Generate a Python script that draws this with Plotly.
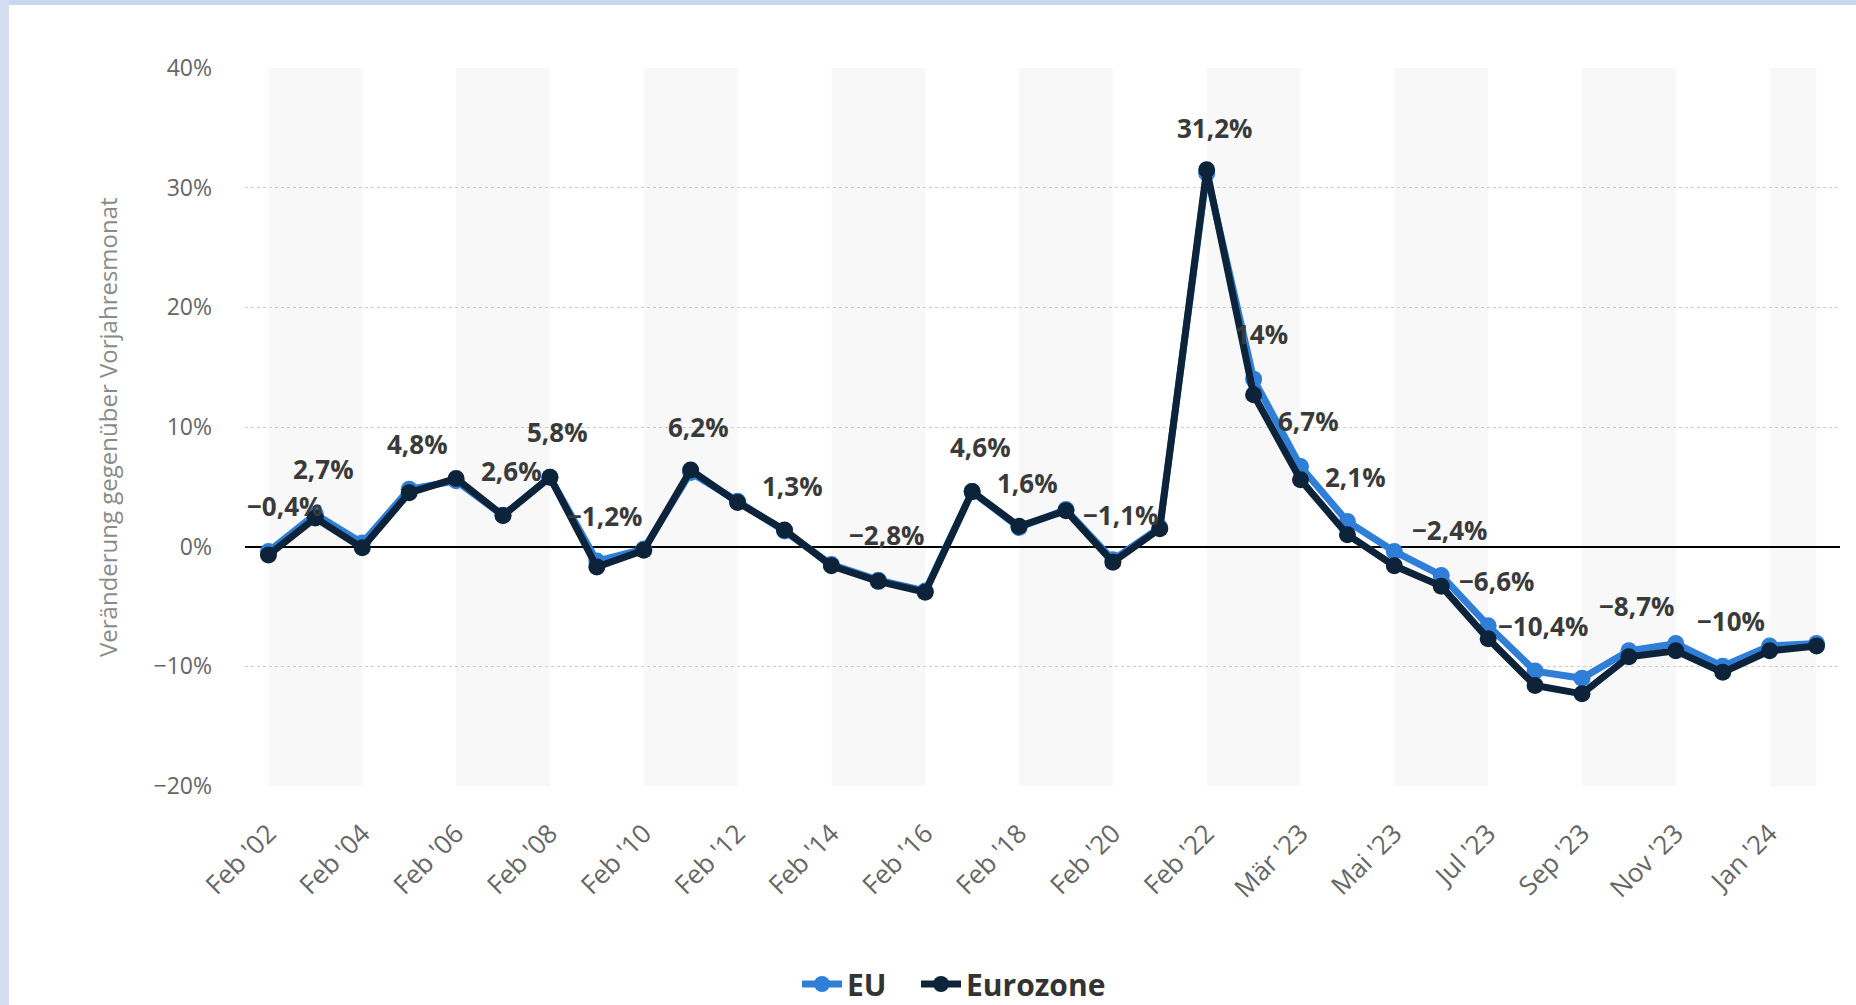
import plotly.graph_objects as go

# ---------------- data ----------------
categories = [
    "Feb '02", "Feb '03", "Feb '04", "Feb '05", "Feb '06", "Feb '07", "Feb '08",
    "Feb '09", "Feb '10", "Feb '11", "Feb '12", "Feb '13", "Feb '14", "Feb '15",
    "Feb '16", "Feb '17", "Feb '18", "Feb '19", "Feb '20", "Feb '21", "Feb '22",
    "Feb '23", "Mär '23", "Apr '23", "Mai '23", "Jun '23", "Jul '23", "Aug '23",
    "Sep '23", "Okt '23", "Nov '23", "Dez '23", "Jan '24", "Feb '24",
]

eu_values = [
    -0.4, 2.7, 0.3, 4.8, 5.5, 2.6, 5.8, -1.2, -0.2, 6.2, 3.8, 1.3, -1.5, -2.8,
    -3.7, 4.6, 1.6, 3.1, -1.1, 1.6, 31.2, 14.0, 6.7, 2.1, -0.4, -2.4, -6.6,
    -10.4, -11.0, -8.7, -8.1, -10.0, -8.3, -8.1,
]

eurozone_values = [
    -0.7, 2.4, -0.1, 4.5, 5.7, 2.6, 5.8, -1.7, -0.3, 6.4, 3.7, 1.4, -1.6, -2.9,
    -3.8, 4.6, 1.7, 3.0, -1.3, 1.5, 31.5, 12.7, 5.6, 1.0, -1.6, -3.3, -7.7,
    -11.6, -12.3, -9.2, -8.7, -10.5, -8.7, -8.3,
]

# indices of EU points that carry a visible data label
labelled_points = [0, 1, 3, 5, 6, 7, 9, 11, 13, 15, 16, 18, 20, 21, 22, 23,
                   25, 26, 27, 29, 31]

y_ticks = [-20, -10, 0, 10, 20, 30, 40]
tick_categories = categories[::2]

# ---------------- style / layout ----------------
W, H = 1856, 1005
ML, MR, MT, MB = 245, 16, 68, 219
PW, PH = W - ML - MR, H - MT - MB

EU_COLOR = "#2f7ed8"
EZ_COLOR = "#0d233a"
FONT = "Open Sans"


def px_x(x):
    return (x - ML) / PW


def px_y(y):
    return 1 - (y - MT) / PH


def fmt(v):
    s = f"{v:.1f}"
    if s.endswith(".0"):
        s = s[:-2]
    return s.replace(".", ",").replace("-", "\u2212") + "%"


fig = go.Figure()

fig.add_trace(go.Scatter(
    x=categories, y=eu_values, name="EU", mode="lines+markers",
    line=dict(color=EU_COLOR, width=7),
    marker=dict(color=EU_COLOR, size=17),
    cliponaxis=False, legend="legend",
))
fig.add_trace(go.Scatter(
    x=categories, y=eurozone_values, name="Eurozone", mode="lines+markers",
    line=dict(color=EZ_COLOR, width=7),
    marker=dict(color=EZ_COLOR, size=17),
    cliponaxis=False, legend="legend2",
))

annotations = []
for i in labelled_points:
    annotations.append(dict(
        x=categories[i], y=eu_values[i], xref="x", yref="y",
        text=fmt(eu_values[i]), showarrow=False,
        xshift=16 if i == 0 else 8, yshift=45,
        font=dict(family=FONT, size=26, color="#3a3a3a", weight="bold"),
    ))

# y axis title
annotations.append(dict(
    x=px_x(107), y=0.5, xref="paper", yref="paper", xanchor="center",
    yanchor="middle",
    text="Veränderung gegenüber Vorjahresmonat", textangle=-90,
    showarrow=False, font=dict(family=FONT, size=24, color="#8a8a8a"),
))

shapes = []
# alternating background bands (every two categories)
n = len(categories)
for k in range(0, n - 1, 4):
    shapes.append(dict(
        type="rect", xref="x", yref="paper", x0=k, x1=min(k + 2, n - 1),
        y0=0, y1=1, fillcolor="#f8f8f8", line=dict(width=0), layer="below",
    ))
# light blue page frame strips
shapes.append(dict(type="rect", xref="paper", yref="paper",
                   x0=px_x(0), x1=px_x(W), y0=px_y(0), y1=px_y(5),
                   fillcolor="#c8d6ef", line=dict(width=0), layer="below"))
shapes.append(dict(type="rect", xref="paper", yref="paper",
                   x0=px_x(0), x1=px_x(9), y0=px_y(0), y1=px_y(H),
                   fillcolor="#d3def2", line=dict(width=0), layer="below"))

legend_style = dict(
    orientation="h", yanchor="middle", y=px_y(984), xanchor="left",
    font=dict(family=FONT, size=30, color="#333333", weight="bold"),
    itemwidth=40, bgcolor="rgba(0,0,0,0)",
)

fig.update_layout(
    width=W, height=H,
    margin=dict(l=ML, r=MR, t=MT, b=MB, autoexpand=False),
    paper_bgcolor="white", plot_bgcolor="white",
    font=dict(family=FONT, color="#666666"),
    showlegend=True,
    legend=dict(x=px_x(797), **legend_style),
    legend2=dict(x=px_x(916), **legend_style),
    annotations=annotations,
    shapes=shapes,
    xaxis=dict(
        type="category", range=[-0.5, n - 0.5],
        tickmode="array", tickvals=tick_categories, ticktext=tick_categories,
        tickangle=-45, tickfont=dict(family=FONT, size=26, color="#666666"),
        showgrid=False, showline=False, zeroline=False, ticks="",
        ticklabelstandoff=26, automargin=False,
    ),
    yaxis=dict(
        range=[-20, 40], tickmode="array", tickvals=y_ticks,
        ticktext=[fmt(v) for v in y_ticks],
        tickfont=dict(family=FONT, size=23, color="#666666"),
        showgrid=True, gridcolor="#cccccc", griddash="dot", gridwidth=1,
        zeroline=True, zerolinecolor="#000000", zerolinewidth=2,
        showline=False, ticks="", ticklabelstandoff=32, automargin=False,
    ),
)

fig.write_html(
    "out.html",
    config={"displayModeBar": False},
    post_script="document.body.style.margin='0';document.body.style.overflow='hidden';",
)
